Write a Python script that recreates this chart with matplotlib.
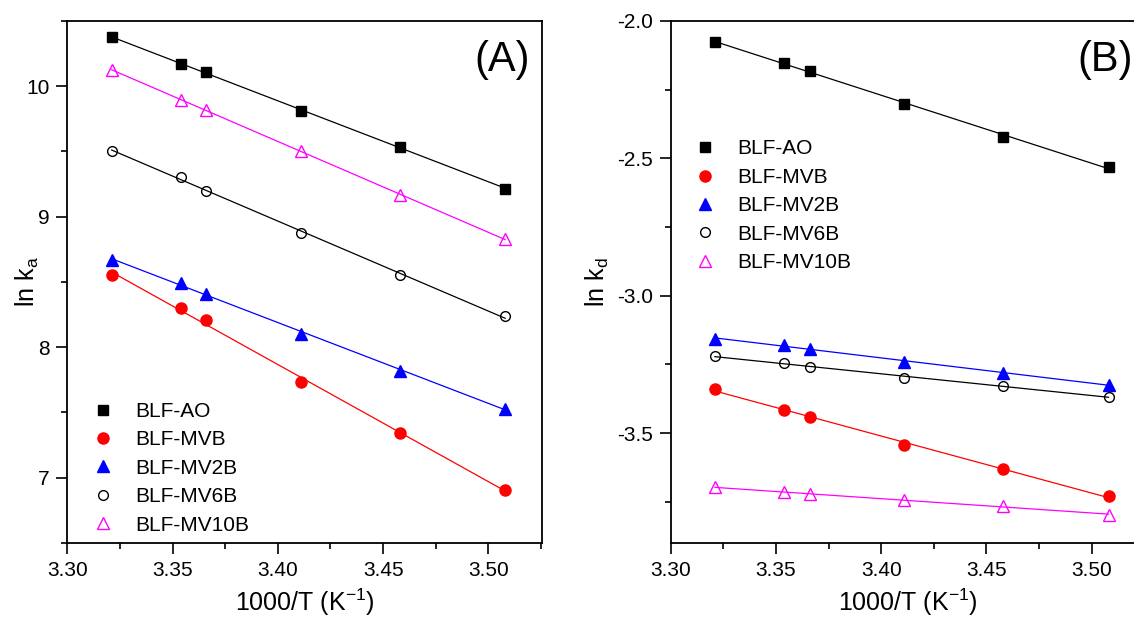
import matplotlib
matplotlib.use("Agg")
import matplotlib.pyplot as plt
import numpy as np

plt.rcParams["font.family"] = ["Liberation Sans", "DejaVu Sans"]
plt.rcParams["mathtext.default"] = "regular"

# 1000/T values (K^-1)
inv_T = [3.321, 3.354, 3.366, 3.411, 3.458, 3.508]

samples = ["BLF-AO", "BLF-MVB", "BLF-MV2B", "BLF-MV6B", "BLF-MV10B"]

# ln k_a for each sample
ln_ka_AO = [10.374, 10.171, 10.112, 9.807, 9.536, 9.216]
ln_ka_MVB = [8.550, 8.300, 8.207, 7.736, 7.343, 6.905]
ln_ka_MV2B = [8.667, 8.490, 8.410, 8.105, 7.821, 7.529]
ln_ka_MV6B = [9.505, 9.307, 9.200, 8.874, 8.550, 8.238]
ln_ka_MV10B = [10.124, 9.898, 9.814, 9.502, 9.169, 8.826]

# ln k_d for each sample
ln_kd_AO = [-2.075, -2.154, -2.182, -2.303, -2.423, -2.530]
ln_kd_MVB = [-3.340, -3.415, -3.443, -3.543, -3.631, -3.730]
ln_kd_MV2B = [-3.157, -3.179, -3.193, -3.240, -3.282, -3.324]
ln_kd_MV6B = [-3.221, -3.245, -3.258, -3.300, -3.327, -3.369]
ln_kd_MV10B = [-3.698, -3.716, -3.721, -3.743, -3.767, -3.797]

styles = [
    dict(marker="s", color="black", fill=True, ms=7.5),
    dict(marker="o", color="red", fill=True, ms=8),
    dict(marker="^", color="blue", fill=True, ms=9),
    dict(marker="o", color="black", fill=False, ms=7),
    dict(marker="^", color="magenta", fill=False, ms=9),
]


def draw_panel(ax, series, ylim, yticks, ylabel, ylabel_x, tag, legend_anchor):
    x = np.array(inv_T)
    for name, y, st in zip(samples, series, styles):
        y = np.array(y)
        # linear (Arrhenius) fit through each sample
        slope, icpt = np.polyfit(x, y, 1)
        xf = np.array([x.min(), x.max()])
        ax.plot(xf, slope * xf + icpt, color=st["color"], lw=0.9, zorder=2)
        ax.plot(x, y, ls="none", marker=st["marker"], ms=st["ms"],
                mfc=st["color"] if st["fill"] else "none",
                mec=st["color"], mew=1.0, label=name, zorder=3)

    ax.set_xlim(3.30, 3.5255)
    ax.set_ylim(*ylim)
    ax.set_xticks([3.30, 3.35, 3.40, 3.45, 3.50])
    ax.set_xticks([3.325, 3.375, 3.425, 3.475, 3.525], minor=True)
    ax.set_xticklabels(["3.30", "3.35", "3.40", "3.45", "3.50"])
    ax.set_yticks(yticks[0])
    ax.set_yticks(yticks[1], minor=True)
    ax.tick_params(which="major", direction="out", length=8, width=1.2,
                   labelsize=15, pad=5)
    ax.tick_params(which="minor", direction="out", length=4.5, width=1.2)
    for sp in ax.spines.values():
        sp.set_linewidth(1.3)

    ax.set_xlabel("1000/T (K$^{-1}$)", fontsize=18, labelpad=5)
    ax.set_ylabel(ylabel, fontsize=18)
    ax.yaxis.set_label_coords(ylabel_x, 0.5)
    ax.text(0.916, 0.925, tag, transform=ax.transAxes, fontsize=30,
            ha="center", va="center")

    ax.legend(loc="upper left", bbox_to_anchor=legend_anchor, frameon=False,
              fontsize=15, handlelength=1.0, handletextpad=1.05,
              labelspacing=0.45, borderpad=0, borderaxespad=0)


fig = plt.figure(figsize=(11.34, 6.18), dpi=100)
ax_a = fig.add_axes([0.0595, 0.1214, 0.4184, 0.8447])
ax_b = fig.add_axes([0.5915, 0.1214, 0.4185, 0.8447])

draw_panel(ax_a,
           [ln_ka_AO, ln_ka_MVB, ln_ka_MV2B, ln_ka_MV6B, ln_ka_MV10B],
           (6.76, 10.49),
           ([7, 8, 9, 10], [6.5, 7.5, 8.5, 9.5, 10.5]),
           "ln k$_a$", -0.055, "(A)", (0.053, 0.270))

draw_panel(ax_b,
           [ln_kd_AO, ln_kd_MVB, ln_kd_MV2B, ln_kd_MV6B, ln_kd_MV10B],
           (-3.9, -2.0),
           ([-3.5, -3.0, -2.5, -2.0], [-3.75, -3.25, -2.75, -2.25]),
           "ln k$_d$", -0.126, "(B)", (0.051, 0.773))
ax_b.set_yticklabels(["-3.5", "-3.0", "-2.5", "-2.0"])

fig.savefig("out.png", dpi=100)
